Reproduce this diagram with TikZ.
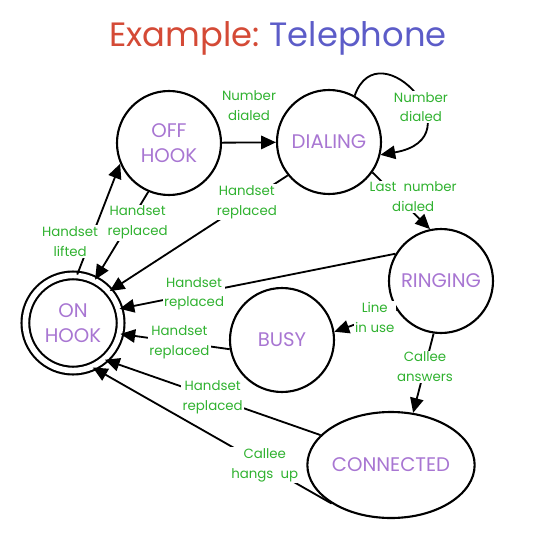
\documentclass[tikz,border=0pt]{standalone}
\usepackage{fontspec}
\setmainfont{Poppins}
\usepackage{tikz}
\usetikzlibrary{shapes.geometric,arrows.meta,positioning,calc}
\definecolor{titlered}{RGB}{212,74,54}
\definecolor{titleblue}{RGB}{92,92,200}
\definecolor{statepurple}{RGB}{168,118,210}
\definecolor{eventgreen}{RGB}{48,178,48}

\begin{document}
\begin{tikzpicture}[
    state/.style={circle,draw,line width=1.5pt,minimum size=2.6cm,inner sep=0pt,
        align=center,text=statepurple,font=\fontsize{14}{18}\selectfont},
    event/.style={align=center,text=eventgreen,fill=white,inner sep=1pt,
        font=\fontsize{9.5}{14}\selectfont},
    trans/.style={line width=1.3pt,-{Triangle[length=10.5pt,width=9.5pt]}}
]
    \useasboundingbox (0,0) rectangle (13.675,-13.5);

    % Title
    \node (title) at (6.95,-0.95) {\fontsize{24}{28}\selectfont
        \textcolor{titlered}{Example:}\hspace{0.3em}\textcolor{titleblue}{Telephone}};

    % States
    \node[state,double,double distance=4pt,minimum size=2.38cm] (onhook) at (1.825,-8.075) {ON\\HOOK};
    \node[state] (offhook) at (4.225,-3.575) {OFF\\HOOK};
    \node[state] (dialing) at (8.225,-3.55) {DIALING};
    \node[state] (ringing) at (11.025,-7.025) {RINGING};
    \node[state] (busy) at (7.05,-8.5) {BUSY};
    \node[state,ellipse,minimum width=3.3cm,minimum height=2.65cm] (connected) at (9.775,-11.625) {CONNECTED};

    % Picking up and dialing
    \draw[trans] (onhook.85) -- (offhook.203) node[event,pos=0.3,xshift=-0.5cm] {Handset\\lifted};
    \draw[trans] (offhook.247) -- (onhook.63) node[event,pos=0.35,xshift=0.2cm] {Handset\\replaced};
    \draw[trans] (offhook) -- (dialing) node[midway,above=0.5cm,event] {Number\\dialed};
    \draw[trans] (dialing.61) .. controls (9.475,-0.675) and (11.975,-3.45) .. (dialing.-14)
        node[event,pos=0.6] {Number\\dialed};
    \draw[trans] (dialing.219) -- (onhook.41) node[event,pos=0.23] {Handset\\replaced};
    \draw[trans] (dialing.-35) -- (ringing.102) node[event,pos=0.43,xshift=0.4cm] {Last\ \ number\\dialed};

    % Ringing
    \draw[trans] (ringing.149) -- (onhook.17) node[event,pos=0.73] {Handset\\replaced};
    \draw[trans] (ringing.213) -- (busy.9) node[event,pos=0.35] {Line\\in use};
    \draw[trans] (ringing.262) -- (connected.67) node[event,pos=0.42] {Callee\\answers};

    % Back on hook
    \draw[trans] (busy.190) -- (onhook.347) node[event,pos=0.46] {Handset\\replaced};
    \draw[trans] (connected.157) -- (onhook.311) node[event,pos=0.5] {Handset\\replaced};
    \draw[trans] (connected.213) -- (onhook.294) node[event,pos=0.28] {Callee\\hangs\ \ up};
\end{tikzpicture}
\end{document}
